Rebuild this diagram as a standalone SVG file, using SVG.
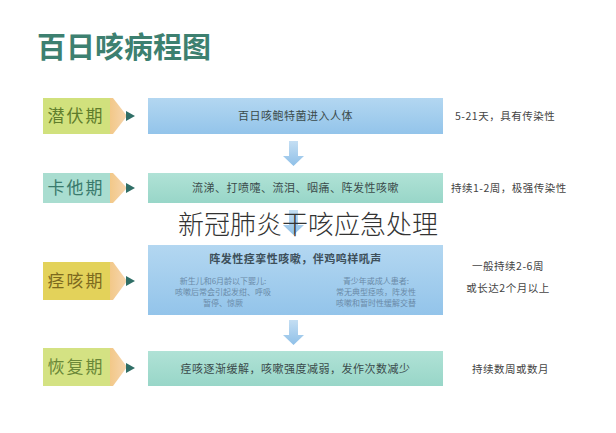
<svg xmlns="http://www.w3.org/2000/svg" width="616" height="433" viewBox="0 0 616 433">
<defs>
<linearGradient id="gBlue" x1="0" y1="0" x2="0" y2="1"><stop offset="0" stop-color="#b3d7f1"/><stop offset="1" stop-color="#93c4ea"/></linearGradient>
<linearGradient id="gTeal" x1="0" y1="0" x2="0" y2="1"><stop offset="0" stop-color="#b0e2d6"/><stop offset="1" stop-color="#98d6c8"/></linearGradient>
<linearGradient id="gArrow" x1="0" y1="0" x2="0" y2="1"><stop offset="0" stop-color="#c4def3"/><stop offset="1" stop-color="#8fc0e8"/></linearGradient>
<linearGradient id="gTip" x1="0" y1="0" x2="1" y2="0"><stop offset="0" stop-color="#f2c888"/><stop offset="1" stop-color="#f6d6b0"/></linearGradient>
<path id="tri" d="M0,-5 L9,0 L0,5 Z"/>
</defs>
<style>
text{font-family:"Noto Sans CJK SC","Noto Sans",sans-serif}
.title{font-size:29px;font-weight:bold;fill:#3d8070}
.lab{font-size:17px;letter-spacing:2px;text-anchor:middle}
.main{font-size:11px;fill:#3a4a4a;text-anchor:middle;letter-spacing:0.5px}
.side{font-size:10.5px;fill:#444;letter-spacing:0.5px}
.small{font-size:8px;fill:#6a8aa8;text-anchor:middle}
.tip{fill:url(#gTip)}
.dark{fill:#2f6e66}
.arrow{fill:url(#gArrow)}
.overlay{font-size:26px;fill:#333;font-weight:300}
</style>
<rect width="616" height="433" fill="#fff"/>
<text class="title" x="37" y="58">百日咳病程图</text>

<g id="connectors">
<path class="arrow" d="M289,141 H298 V156 H304 L293.5,166 L283,156 H289 Z"/>
<path class="arrow" d="M289,210 H298 V225 H304 L293.5,235 L283,225 H289 Z"/>
<path class="arrow" d="M289,320 H298 V335 H304 L293.5,345 L283,335 H289 Z"/>
</g>

<g id="stage1">
<rect x="43" y="98" width="67" height="36" fill="#d1e17d"/>
<path class="tip" d="M110,98 H113 L127,116 L113,134 H110 Z"/>
<use href="#tri" class="dark" x="126" y="116"/>
<text class="lab" x="76" y="122" fill="#5f7d2c">潜伏期</text>
</g>
<g id="box1">
<rect x="148" y="98" width="295" height="36" fill="url(#gBlue)"/>
<text class="main" x="295.5" y="120">百日咳鲍特菌进入人体</text>
<text class="side" x="455" y="120">5-21天，具有传染性</text>
</g>

<g id="stage2">
<rect x="43" y="173" width="67" height="30" fill="#a9ddd0"/>
<path class="tip" d="M110,173 H113 L127,188 L113,203 H110 Z"/>
<use href="#tri" class="dark" x="126" y="188"/>
<text class="lab" x="76" y="194" fill="#3a7a6c">卡他期</text>
</g>
<g id="box2">
<rect x="148" y="173" width="295" height="30" fill="url(#gTeal)"/>
<text class="main" x="295.5" y="192">流涕、打喷嚏、流泪、咽痛、阵发性咳嗽</text>
<text class="side" x="451" y="192">持续1-2周，极强传染性</text>
</g>

<g id="stage3">
<rect x="43" y="262" width="67" height="38" fill="#e3d25a"/>
<path class="tip" d="M110,262 H113 L127,281 L113,300 H110 Z"/>
<use href="#tri" class="dark" x="126" y="281"/>
<text class="lab" x="76" y="287" fill="#7d6a1e">痉咳期</text>
</g>
<g id="box3">
<rect x="148" y="245" width="295" height="70" fill="url(#gBlue)"/>
<text class="main" x="295.5" y="263" style="font-weight:bold;fill:#3d4f5a">阵发性痉挛性咳嗽，伴鸡鸣样吼声</text>
<text class="small" x="223" y="284">新生儿和6月龄以下婴儿:</text>
<text class="small" x="223" y="295">咳嗽后常会引起发绀、呼吸</text>
<text class="small" x="223" y="306">暂停、惊厥</text>
<text class="small" x="376" y="284">青少年或成人患者:</text>
<text class="small" x="376" y="295">常无典型痉咳，阵发性</text>
<text class="small" x="376" y="306">咳嗽和暂时性缓解交替</text>
<text class="side" x="508" y="270" text-anchor="middle">一般持续2-6周</text>
<text class="side" x="508" y="292" text-anchor="middle">或长达2个月以上</text>
</g>

<g id="stage4">
<rect x="43" y="348" width="67" height="38" fill="#d4e283"/>
<path class="tip" d="M110,348 H113 L127,367 L113,386 H110 Z"/>
<use href="#tri" class="dark" x="126" y="368"/>
<text class="lab" x="76" y="373" fill="#6a8838">恢复期</text>
</g>
<g id="box4">
<rect x="148" y="351" width="295" height="35" fill="url(#gTeal)"/>
<text class="main" x="295.5" y="373">痉咳逐渐缓解，咳嗽强度减弱，发作次数减少</text>
<text class="side" x="472" y="373">持续数周或数月</text>
</g>

<text class="overlay" x="178" y="234">新冠肺炎干咳应急处理</text>
</svg>
